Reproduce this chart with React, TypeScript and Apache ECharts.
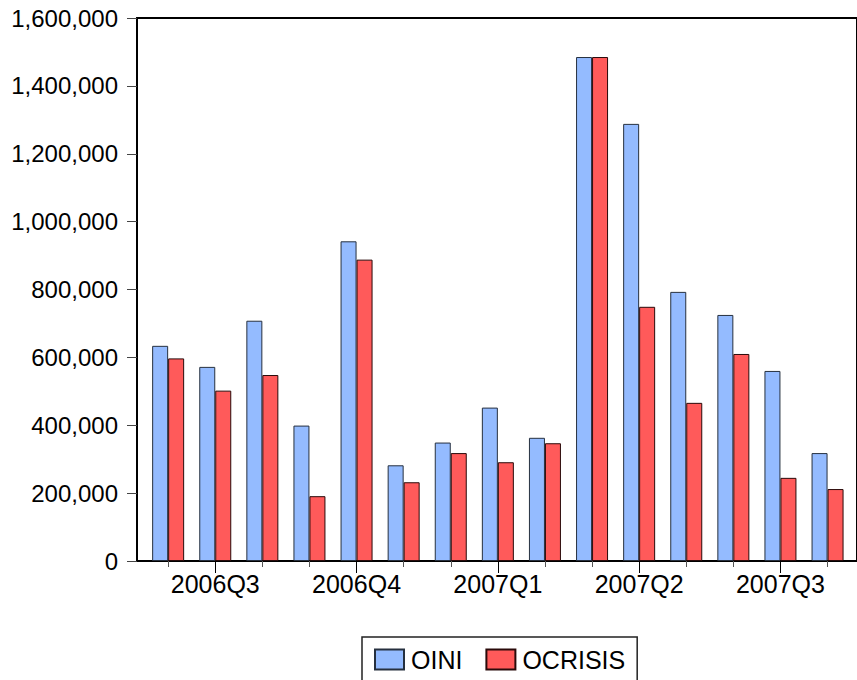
import React, { useEffect, useRef } from "react";
import * as echarts from "echarts";

const months = [
  "2006M07", "2006M08", "2006M09",
  "2006M10", "2006M11", "2006M12",
  "2007M01", "2007M02", "2007M03",
  "2007M04", "2007M05", "2007M06",
  "2007M07", "2007M08", "2007M09",
];
const quarterLabels = ["2006Q3", "2006Q4", "2007Q1", "2007Q2", "2007Q3"];
const oini = [634000, 572000, 708000, 399000, 942000, 282000, 349000, 452000, 363000, 1485000, 1288000, 793000, 725000, 560000, 318000];
const ocrisis = [597000, 502000, 548000, 191000, 888000, 232000, 318000, 291000, 347000, 1485000, 749000, 466000, 610000, 245000, 212000];
const yTicks = { min: 0, max: 1600000, interval: 200000 };

const FONT = "Liberation Sans, Arial, Helvetica, sans-serif";

export default function App() {
  const ref = useRef<HTMLDivElement>(null);
  useEffect(() => {
    if (!ref.current) return;
    const chart = echarts.init(ref.current, null, { renderer: "svg" });
    const fmt = (v: number) => v.toLocaleString("en-US");
    chart.setOption({
      animation: false,
      backgroundColor: "#fff",
      grid: [
        { left: 137, top: 18, right: -3, bottom: 119, show: true, borderColor: "#000", borderWidth: 2, backgroundColor: "transparent" },
        { left: 144.6, top: 18, width: 706.5, bottom: 119 },
        { left: 144.6, top: 18, width: 706.5, bottom: 119 },
      ],
      xAxis: [
        { type: "value", gridIndex: 0, position: "bottom", min: 0, max: 1, axisLine: { show: true, lineStyle: { color: "#000", width: 2 } }, axisTick: { show: false }, axisLabel: { show: false }, splitLine: { show: false } },
        {
          type: "category", gridIndex: 1, position: "bottom", data: months,
          axisLine: { show: false },
          axisTick: { show: true, interval: 0, alignWithLabel: true, length: 6, lineStyle: { color: "#555", width: 1 } },
          axisLabel: {
            show: true,
            interval: (i: number) => i % 3 === 1,
            formatter: (_v: string, i: number) => quarterLabels[Math.floor(i / 3)],
            color: "#000", fontSize: 25, fontFamily: FONT, margin: 10,
          },
          splitLine: { show: false },
        },
        {
          type: "category", gridIndex: 2, position: "bottom", data: months,
          axisLine: { show: false },
          axisTick: { show: true, interval: (i: number) => i % 3 === 1, alignWithLabel: true, length: 12, lineStyle: { color: "#000", width: 1 } },
          axisLabel: { show: false },
          splitLine: { show: false },
        },
      ],
      yAxis: [
        {
          type: "value", gridIndex: 0, min: yTicks.min, max: yTicks.max, interval: yTicks.interval,
          axisLine: { show: true, lineStyle: { color: "#000", width: 2 } },
          axisTick: { show: true, length: 10, lineStyle: { color: "#444", width: 1 } },
          axisLabel: { color: "#000", fontSize: 24, fontFamily: FONT, margin: 19, formatter: fmt },
          splitLine: { show: false },
        },
        { type: "value", gridIndex: 1, min: yTicks.min, max: yTicks.max, interval: yTicks.interval, show: false },
        { type: "value", gridIndex: 2, min: yTicks.min, max: yTicks.max, interval: yTicks.interval, show: false },
      ],
      legend: {
        left: 362, top: 637,
        padding: [10, 12, 10, 12],
        itemWidth: 29, itemHeight: 20, itemGap: 23,
        borderColor: "#222", borderWidth: 1.5,
        icon: "rect",
        textStyle: { color: "#000", fontSize: 25, fontFamily: FONT, padding: [0, 0, 0, 2] },
        data: ["OINI", "OCRISIS"],
      },
      series: [
        {
          name: "OINI", type: "bar", xAxisIndex: 1, yAxisIndex: 1, data: oini,
          barWidth: 16, barGap: "0%",
          itemStyle: { color: "#94BBFF", borderColor: "#26303f", borderWidth: 1 },
        },
        {
          name: "OCRISIS", type: "bar", xAxisIndex: 1, yAxisIndex: 1, data: ocrisis,
          barWidth: 16, barGap: "0%",
          itemStyle: { color: "#FF5A5A", borderColor: "#2a0a0a", borderWidth: 1 },
        },
      ],
    });
    return () => chart.dispose();
  }, []);
  return <div ref={ref} style={{ position: "absolute", left: 0, top: 0, width: 857, height: 680 }} />;
}
